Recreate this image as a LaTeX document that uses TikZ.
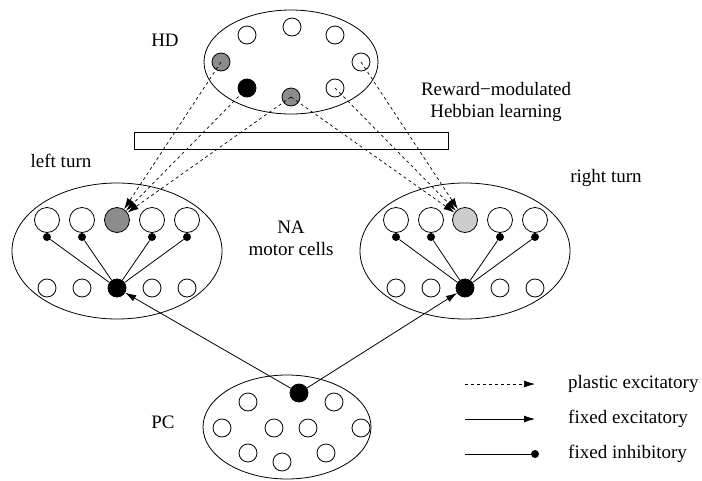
\documentclass[tikz,border=0pt]{standalone}
\usepackage{fontspec}
\setmainfont{Liberation Serif}
\usetikzlibrary{arrows.meta}
\begin{document}
\begin{tikzpicture}[x=1pt,y=-1pt,
  every node/.style={font=\fontsize{19}{22}\selectfont},
  cell/.style={draw,circle,line width=0.8pt,inner sep=0pt,minimum size=18pt,fill=white},
  bigcell/.style={cell,minimum size=25pt},
  blk/.style={cell,fill=black},
  dot/.style={circle,fill=black,inner sep=0pt,minimum size=8pt},
  gry/.style={fill=gray!90},
  lgry/.style={fill=gray!40},
  plastic/.style={line width=0.7pt,dash pattern=on 3pt off 3pt,-{Latex[length=11pt,width=7pt]}},
  fixedex/.style={line width=0.8pt,-{Latex[length=11pt,width=7pt]}},
  conn/.style={line width=0.8pt},
  lbl/.style={inner sep=0pt,align=center}]
\useasboundingbox (0,0) rectangle (702,480);
% group ellipses
\draw[line width=0.8pt] (291,62) ellipse [x radius=87,y radius=52];
\draw[line width=0.8pt] (117,251) ellipse [x radius=105,y radius=68];
\draw[line width=0.8pt] (465,251) ellipse [x radius=105,y radius=68];
\draw[line width=0.8pt] (287,427) ellipse [x radius=84,y radius=52];
\node[draw,line width=0.8pt,minimum width=314pt,minimum height=17pt,inner sep=0pt] (bar) at (291,140.5) {};
% HD cells
\node[cell] (h1) at (247,35) {};
\node[cell] (h2) at (292,27) {};
\node[cell] (h3) at (335,35) {};
\node[cell,gry] (h4) at (221,62) {};
\node[cell] (h5) at (361,62) {};
\node[blk] (h6) at (247,88) {};
\node[cell,gry] (h7) at (291,97) {};
\node[cell] (h8) at (335,88) {};
% left group
\foreach \i/\x in {1/47,2/82,4/152,5/187}{
  \node[bigcell] (lt\i) at (\x,220) {};
  \node[dot] (ld\i) at (\x,237) {};
  \node[cell] (lb\i) at (\x,288) {};
}
\node[bigcell,gry] (lt3) at (117,220) {};
\node[blk] (lb3) at (117,288) {};
\foreach \i in {1,2,4,5}{\draw[conn] (lb3) -- (ld\i);}
% right group
\foreach \i/\x in {1/396,2/431,4/500,5/535}{
  \node[bigcell] (rt\i) at (\x,220) {};
  \node[dot] (rd\i) at (\x,237) {};
  \node[cell] (rb\i) at (\x,288) {};
}
\node[bigcell,lgry] (rt3) at (465,220) {};
\node[blk] (rb3) at (465,288) {};
\foreach \i in {1,2,4,5}{\draw[conn] (rb3) -- (rd\i);}
% PC cells
\node[blk] (p0) at (299,393) {};
\node[cell] (p1) at (248,402) {};
\node[cell] (p2) at (334,402) {};
\node[cell] (p3) at (222,428) {};
\node[cell] (p4) at (274,428) {};
\node[cell] (p5) at (308,428) {};
\node[cell] (p6) at (361,428) {};
\node[cell] (p7) at (248,453) {};
\node[cell] (p8) at (282,462) {};
\node[cell] (p9) at (326,453) {};
% connections
\draw[fixedex] (p0) -- (lb3);
\draw[fixedex] (p0) -- (rb3);
\foreach \s in {h4,h6,h7}{\draw[plastic] (\s.center) -- (lt3);}
\foreach \s in {h5,h8,h7}{\draw[plastic] (\s.center) -- (rt3);}
% labels
\node[lbl] (tHD) at (165,40) {HD};
\node[lbl] (tRW) at (496,102) {Reward\textminus modulated\\Hebbian learning};
\node[lbl] (tLT) at (61,161) {left turn};
\node[lbl] (tRT) at (606,178) {right turn};
\node[lbl] (tNA) at (291,238) {NA\\motor cells};
\node[lbl] (tPC) at (163,422) {PC};
% legend
\coordinate (la1) at (465,384); \coordinate (la2) at (535,384);
\coordinate (lb1) at (465,419); \coordinate (lb2) at (535,419);
\coordinate (lc1) at (465,454);
\node[dot] (lc2) at (535,454) {};
\draw[plastic] (la1) -- (la2);
\draw[fixedex] (lb1) -- (lb2);
\draw[conn] (lc1) -- (lc2);
\node[lbl,anchor=west] (t1) at (568,384) {plastic excitatory};
\node[lbl,anchor=west] (t2) at (568,419) {fixed excitatory};
\node[lbl,anchor=west] (t3) at (568,454) {fixed inhibitory};
\end{tikzpicture}
\end{document}
